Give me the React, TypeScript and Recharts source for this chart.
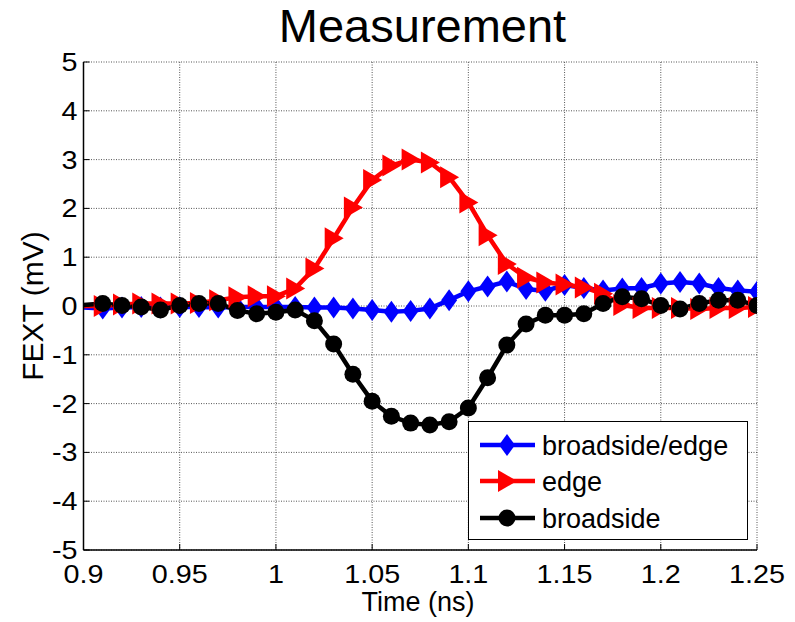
import React from "react";
import { LineChart, Line, XAxis, YAxis, CartesianGrid, Legend } from "recharts";

const times = [0.9, 0.91, 0.92, 0.93, 0.94, 0.95, 0.96, 0.97, 0.98, 0.99, 1.0, 1.01, 1.02, 1.03, 1.04, 1.05, 1.06, 1.07, 1.08, 1.09, 1.1, 1.11, 1.12, 1.13, 1.14, 1.15, 1.16, 1.17, 1.18, 1.19, 1.2, 1.21, 1.22, 1.23, 1.24, 1.25];
const broadsideEdge = [-0.03, -0.05, -0.03, -0.02, -0.03, -0.02, -0.02, -0.03, -0.02, -0.02, -0.02, -0.02, -0.03, -0.03, -0.05, -0.08, -0.12, -0.1, -0.05, 0.12, 0.3, 0.4, 0.5, 0.35, 0.31, 0.43, 0.37, 0.32, 0.36, 0.37, 0.46, 0.49, 0.46, 0.37, 0.32, 0.29];
const edge = [0.0, 0.0, 0.03, 0.05, 0.05, 0.05, 0.06, 0.12, 0.18, 0.2, 0.2, 0.36, 0.77, 1.39, 2.02, 2.58, 2.88, 3.0, 2.94, 2.64, 2.12, 1.45, 0.86, 0.58, 0.48, 0.44, 0.38, 0.25, 0.02, -0.04, -0.04, -0.04, -0.06, -0.04, -0.04, -0.02];
const broadside = [0.02, 0.05, 0.01, -0.02, -0.08, 0.01, 0.05, 0.05, -0.09, -0.16, -0.13, -0.08, -0.3, -0.78, -1.4, -1.95, -2.26, -2.4, -2.44, -2.37, -2.09, -1.47, -0.8, -0.37, -0.19, -0.19, -0.16, 0.05, 0.19, 0.15, 0.01, -0.06, 0.05, 0.12, 0.12, 0.01];
const xTicks = [0.9, 0.95, 1, 1.05, 1.1, 1.15, 1.2, 1.25];
const yTicks = [-5, -4, -3, -2, -1, 0, 1, 2, 3, 4, 5];
const seriesNames = ["broadside/edge", "edge", "broadside"];

const data = times.map((t, i) => ({ t, be: broadsideEdge[i], e: edge[i], b: broadside[i] }));

const FONT = "'Liberation Sans', Arial, Helvetica, sans-serif";
const BLUE = "#0000FF";
const RED = "#FF0000";
const BLACK = "#000000";

const diamondShape = (cx: number, cy: number, key: string) => (
  <polygon key={key} points={`${cx},${cy - 11} ${cx + 8},${cy} ${cx},${cy + 11} ${cx - 8},${cy}`} fill={BLUE} />
);
const triangleShape = (cx: number, cy: number, key: string) => (
  <polygon key={key} points={`${cx - 9},${cy - 11} ${cx + 10},${cy} ${cx - 9},${cy + 11}`} fill={RED} />
);
const circleShape = (cx: number, cy: number, key: string) => (
  <circle key={key} cx={cx} cy={cy} r={8.5} fill={BLACK} />
);

const makeDot = (shape: (cx: number, cy: number, key: string) => React.ReactElement, name: string) => (props: any) => {
  const { cx, cy, index } = props;
  const key = `${name}-${index}`;
  if (index === 0 || cx == null || cy == null) return <g key={key} />;
  return shape(cx, cy, key);
};

const BottomTick = (props: any) => {
  const { x, y, payload } = props;
  return (
    <g>
      <line x1={x} y1={y} x2={x} y2={y - 6} stroke={BLACK} strokeWidth={1} />
      <text
        transform={`translate(${x} ${y + 33}) scale(1.15 1)`}
        textAnchor="middle"
        fontSize={25}
        fontFamily={FONT}
        fill={BLACK}
      >
        {String(payload.value)}
      </text>
    </g>
  );
};
const TopTick = (props: any) => {
  const { x, y } = props;
  return <line x1={x} y1={y} x2={x} y2={y + 6} stroke={BLACK} strokeWidth={1} />;
};
const LeftTick = (props: any) => {
  const { x, y, payload } = props;
  return (
    <g>
      <line x1={x} y1={y} x2={x + 6} y2={y} stroke={BLACK} strokeWidth={1} />
      <text
        transform={`translate(${x - 6} ${y + 9}) scale(1.15 1)`}
        textAnchor="end"
        fontSize={25}
        fontFamily={FONT}
        fill={BLACK}
      >
        {String(payload.value)}
      </text>
    </g>
  );
};
const RightTick = (props: any) => {
  const { x, y } = props;
  return <line x1={x} y1={y} x2={x - 6} y2={y} stroke={BLACK} strokeWidth={1} />;
};

const LegendBox = () => {
  const rows = [
    { name: seriesNames[0], color: BLUE, shape: diamondShape, y: 24 },
    { name: seriesNames[1], color: RED, shape: triangleShape, y: 60 },
    { name: seriesNames[2], color: BLACK, shape: circleShape, y: 97 },
  ];
  return (
    <svg width={280} height={119} style={{ display: "block" }}>
      <rect x={0.5} y={0.5} width={279} height={118} fill="#fff" stroke={BLACK} strokeWidth={1} />
      {rows.map((r, i) => (
        <g key={i}>
          <line x1={12} x2={67} y1={r.y} y2={r.y} stroke={r.color} strokeWidth={4.5} />
          {r.shape(39, r.y, `lg-${i}`)}
          <text x={74} y={r.y + 10} fontSize={27} fontFamily={FONT} fill={BLACK}>
            {r.name}
          </text>
        </g>
      ))}
    </svg>
  );
};

export default function App() {
  return (
    <div style={{ position: "absolute", left: 0, top: 0, width: 795, height: 622, background: "#fff", fontFamily: FONT }}>
      <div
        style={{
          position: "absolute",
          left: 0,
          width: 845,
          top: 2,
          lineHeight: "47px",
          fontSize: 47,
          textAlign: "center",
          color: BLACK,
        }}
      >
        Measurement
      </div>
      <div
        style={{
          position: "absolute",
          left: 0,
          width: 836,
          top: 589,
          lineHeight: "27px",
          fontSize: 27,
          textAlign: "center",
          color: BLACK,
        }}
      >
        Time (ns)
      </div>
      <div
        style={{
          position: "absolute",
          left: 33 - 100,
          top: 306 - 15,
          width: 200,
          lineHeight: "30px",
          fontSize: 30,
          textAlign: "center",
          color: BLACK,
          transform: "rotate(-90deg)",
          transformOrigin: "100px 15px",
        }}
      >
        FEXT (mV)
      </div>
      <LineChart
        width={795}
        height={622}
        data={data}
        margin={{ top: 62, right: 38, bottom: 32, left: 23.5 }}
        style={{ position: "absolute", left: 0, top: 0 }}
      >
        <CartesianGrid stroke="#555" strokeDasharray="1 1.5" strokeWidth={1} />
        <XAxis
          dataKey="t"
          type="number"
          domain={[0.9, 1.25]}
          ticks={xTicks}
          allowDataOverflow
          height={40}
          tickSize={0}
          tickMargin={0}
          tickLine={false}
          tick={BottomTick}
          interval={0}
          axisLine={{ stroke: BLACK, strokeWidth: 1.5 }}
        />
        <XAxis
          xAxisId="top"
          orientation="top"
          dataKey="t"
          type="number"
          domain={[0.9, 1.25]}
          ticks={xTicks}
          allowDataOverflow
          height={0}
          tickSize={0}
          tickMargin={0}
          tickLine={false}
          tick={TopTick}
          interval={0}
          axisLine={{ stroke: BLACK, strokeWidth: 1.5 }}
        />
        <YAxis
          type="number"
          domain={[-5, 5]}
          ticks={yTicks}
          allowDataOverflow
          width={60}
          tickSize={0}
          tickMargin={0}
          tickLine={false}
          tick={LeftTick}
          interval={0}
          axisLine={{ stroke: BLACK, strokeWidth: 1.5 }}
        />
        <YAxis
          yAxisId="right"
          orientation="right"
          type="number"
          domain={[-5, 5]}
          ticks={yTicks}
          allowDataOverflow
          width={0}
          tickSize={0}
          tickMargin={0}
          tickLine={false}
          tick={RightTick}
          interval={0}
          axisLine={{ stroke: BLACK, strokeWidth: 1.5 }}
        />
        <Line
          dataKey="be"
          name={seriesNames[0]}
          type="linear"
          stroke={BLUE}
          strokeWidth={4.5}
          dot={makeDot(diamondShape, "be")}
          activeDot={false}
          isAnimationActive={false}
        />
        <Line
          dataKey="e"
          name={seriesNames[1]}
          type="linear"
          stroke={RED}
          strokeWidth={4.5}
          dot={makeDot(triangleShape, "e")}
          activeDot={false}
          isAnimationActive={false}
        />
        <Line
          dataKey="b"
          name={seriesNames[2]}
          type="linear"
          stroke={BLACK}
          strokeWidth={4.5}
          dot={makeDot(circleShape, "b")}
          activeDot={false}
          isAnimationActive={false}
        />
        <Legend
          layout="vertical"
          align="center"
          verticalAlign="middle"
          wrapperStyle={{ position: "absolute", left: 468, top: 421, width: 280, height: 119 }}
          content={() => <LegendBox />}
        />
      </LineChart>
    </div>
  );
}
